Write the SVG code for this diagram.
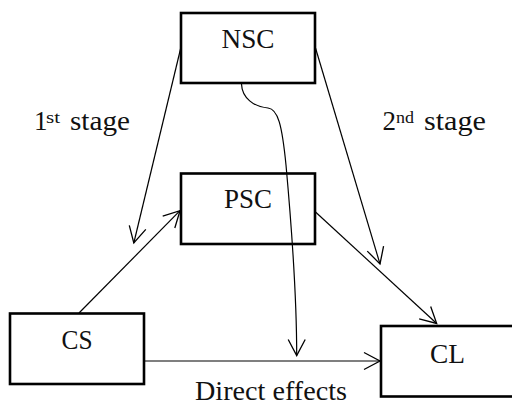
<svg xmlns="http://www.w3.org/2000/svg" width="512" height="405" viewBox="0 0 512 405">
<style>
.box{fill:#fff;stroke:#000;stroke-width:2.6}
.ln{fill:none;stroke:#000;stroke-width:1.2}
</style>
<defs>
<marker id="arr" markerUnits="userSpaceOnUse" viewBox="-20 -12 24 24" markerWidth="24" markerHeight="24" refX="0" refY="0" orient="auto" overflow="visible">
<path d="M-16,-8.5 L0,0 L-16,8.5" fill="none" stroke="#000" stroke-width="1.3"/>
</marker>
</defs>
<rect width="512" height="405" fill="#fff"/>
<g font-family="Liberation Serif, Times New Roman, serif" fill="#111">
<g id="NSC">
<rect class="box" x="181" y="13" width="134" height="70"/>
<text x="248" y="48.3" font-size="27" text-anchor="middle" textLength="53" lengthAdjust="spacingAndGlyphs">NSC</text>
</g>
<g id="PSC">
<rect class="box" x="181" y="173.5" width="134" height="70.5"/>
<text x="248" y="208.3" font-size="27" text-anchor="middle" textLength="48" lengthAdjust="spacingAndGlyphs">PSC</text>
</g>
<g id="CS">
<rect class="box" x="10" y="313.5" width="134" height="70.5"/>
<text x="77" y="349.3" font-size="27" text-anchor="middle" textLength="31" lengthAdjust="spacingAndGlyphs">CS</text>
</g>
<g id="CL">
<rect class="box" x="381" y="326" width="134" height="70.5"/>
<text x="447.5" y="363" font-size="27" text-anchor="middle" textLength="35" lengthAdjust="spacingAndGlyphs">CL</text>
</g>
<g id="connectors">
<line class="ln" x1="181" y1="47" x2="133.8" y2="243" marker-end="url(#arr)"/>
<line class="ln" x1="315.5" y1="48" x2="380" y2="264" marker-end="url(#arr)"/>
<path class="ln" d="M241.5,84 C242,98 254,107 268,108 C278,109 282,125 286,165 C291,220 296.7,290 296.7,355.5" marker-end="url(#arr)"/>
<line class="ln" x1="79" y1="313" x2="180" y2="210.7" marker-end="url(#arr)"/>
<line class="ln" x1="315.5" y1="212" x2="436.7" y2="323.5" marker-end="url(#arr)"/>
<line class="ln" x1="144" y1="361" x2="380" y2="361" marker-end="url(#arr)"/>
</g>
<g id="labels">
<text x="34" y="130" font-size="27">1</text>
<text x="46" y="123" font-size="16" textLength="14" lengthAdjust="spacingAndGlyphs">st</text>
<text x="70" y="130" font-size="27" textLength="60" lengthAdjust="spacingAndGlyphs">stage</text>
<text x="382.5" y="130" font-size="27">2</text>
<text x="396" y="123" font-size="16" textLength="18" lengthAdjust="spacingAndGlyphs">nd</text>
<text x="424" y="130" font-size="27" textLength="62" lengthAdjust="spacingAndGlyphs">stage</text>
<text x="195" y="400" font-size="27" textLength="152" lengthAdjust="spacingAndGlyphs">Direct effects</text>
</g>
</g>
</svg>
